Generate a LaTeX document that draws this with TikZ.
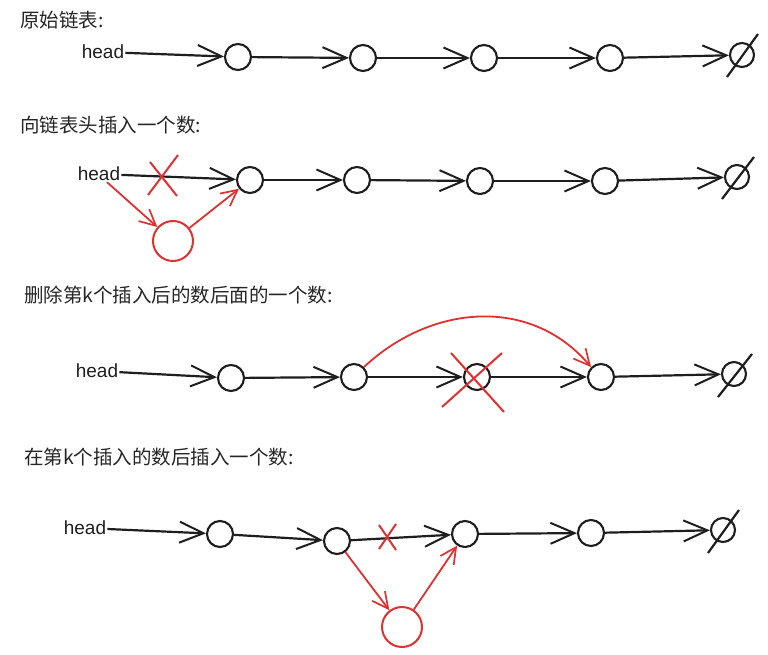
\documentclass[tikz,border=0pt]{standalone}
\usepackage{fontspec}
\setmainfont{Liberation Sans}
\newfontfamily\cjk{Noto Sans CJK SC}
\usetikzlibrary{arrows.meta}
\definecolor{ink}{HTML}{1E1E1E}
\definecolor{rd}{HTML}{E03131}
\tikzset{
  nd/.style={circle,draw=ink,line width=2.1pt,minimum size=26pt,inner sep=0pt},
  nullnd/.style={circle,draw=ink,line width=2.1pt,minimum size=24pt,inner sep=0pt},
  rnd/.style={circle,draw=rd,line width=2pt,minimum size=40pt,inner sep=0pt},
  hd/.style={inner sep=1pt,font=\fontsize{19}{19}\selectfont,text=ink},
  ttl/.style={anchor=west,inner sep=0pt,font=\cjk\fontsize{19.5}{19.5}\selectfont,text=black!85},
  arr/.style={draw=ink,line width=2.2pt,-{Straight Barb[length=24pt,width=21pt,line width=2pt]}},
  rarr/.style={draw=rd,line width=1.8pt,-{Straight Barb[length=16pt,width=16pt,line width=1.7pt]}},
  slash/.style={draw=ink,line width=2.2pt},
  rx/.style={draw=rd,line width=2pt}
}
\begin{document}
\begin{tikzpicture}[x=1pt,y=-1pt]
\useasboundingbox (0,0) rectangle (768,655);
% ---------- row 1
\node[ttl] (t1) at (20,20) {原始链表:};
\node[hd] (h1) at (103,52) {head};
\node[nd] (a1) at (238,57) {};
\node[nd] (a2) at (363,58) {};
\node[nd] (a3) at (484,58) {};
\node[nd] (a4) at (610,58) {};
\node[nullnd] (a5) at (742,55) {};
\draw[slash] (a5.center) ++(-15,22) -- ++(31,-43);
\draw[arr] (h1) -- (a1);
\draw[arr] (a1) -- (a2);
\draw[arr] (a2) -- (a3);
\draw[arr] (a3) -- (a4);
\draw[arr] (a4) -- (a5);
% ---------- row 2
\node[ttl] (t2) at (20,125) {向链表头插入一个数:};
\node[hd] (h2) at (99,174) {head};
\node[nd] (b1) at (250,180) {};
\node[nd] (b2) at (357,180) {};
\node[nd] (b3) at (480,181) {};
\node[nd] (b4) at (605,181) {};
\node[nullnd] (b5) at (737,177) {};
\node[rnd] (r2) at (173,241) {};
\draw[slash] (b5.center) ++(-15,22) -- ++(32,-42);
\draw[arr] (h2) -- (b1);
\draw[rx] (150,162) -- (177,196);
\draw[rx] (178,155) -- (148,195);
\draw[rarr] ([xshift=8pt]h2.south) -- (r2);
\draw[rarr] (r2) -- (b1);
\draw[arr] (b1) -- (b2);
\draw[arr] (b2) -- (b3);
\draw[arr] (b3) -- (b4);
\draw[arr] (b4) -- (b5);
% ---------- row 3
\node[ttl] (t3) at (24,295) {删除第k个插入后的数后面的一个数:};
\node[hd] (h3) at (97,371) {head};
\node[nd] (c1) at (231,378) {};
\node[nd] (c2) at (354,377) {};
\node[nd] (c3) at (477,377) {};
\node[nd] (c4) at (601,377) {};
\node[nullnd] (c5) at (734,374) {};
\draw[slash] (c5.center) ++(-16,23) -- ++(34,-43);
\draw[arr] (h3) -- (c1);
\draw[arr] (c1) -- (c2);
\draw[arr] (c2) -- (c3);
\draw[arr] (c3) -- (c4);
\draw[arr] (c4) -- (c5);
\draw[rx] (451,353) -- (504,412);
\draw[rx] (502,353) -- (442,407);
\draw[rarr] (c2.north east) .. controls (430,305) and (530,295) .. (c4.north west);
% ---------- row 4
\node[ttl] (t4) at (24,457) {在第k个插入的数后插入一个数:};
\node[hd] (h4) at (85,528) {head};
\node[nd] (d1) at (220,534) {};
\node[nd] (d2) at (337,541) {};
\node[nd] (d3) at (465,534) {};
\node[nd] (d4) at (591,533) {};
\node[nullnd] (d5) at (723,530) {};
\node[rnd] (r4) at (402,627) {};
\draw[slash] (d5.center) ++(-15,23) -- ++(31,-43);
\draw[arr] (h4) -- (d1);
\draw[arr] (d1) -- (d2);
\draw[arr] (d2) -- (d3);
\draw[arr] (d3) -- (d4);
\draw[arr] (d4) -- (d5);
\draw[rx] (379,525) -- (396,550);
\draw[rx] (396,524) -- (379,549);
\draw[rarr] (d2) -- (r4);
\draw[rarr] (r4) -- (d3);
\end{tikzpicture}
\end{document}
